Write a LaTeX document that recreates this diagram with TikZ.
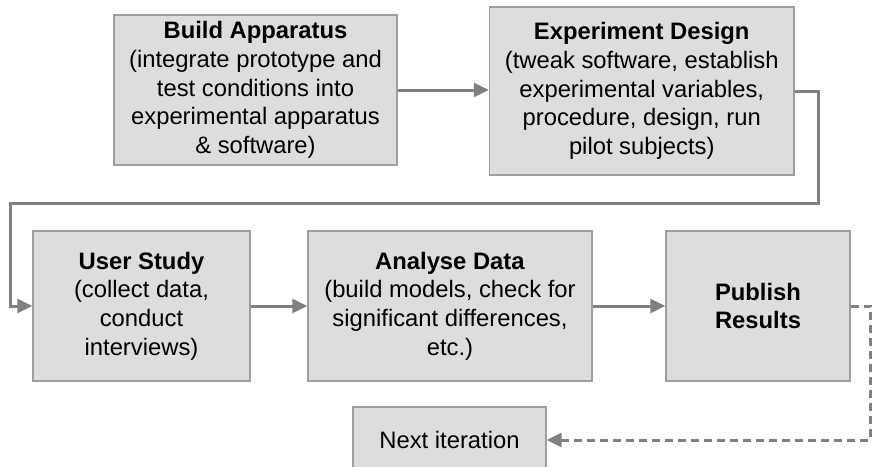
\documentclass[tikz,border=0pt]{standalone}
\usepackage{fontspec}
\setmainfont{Liberation Sans}
\usetikzlibrary{arrows.meta}
\definecolor{boxfill}{RGB}{221,221,221}
\definecolor{boxline}{RGB}{158,158,158}
\definecolor{arrowgray}{RGB}{128,128,128}
\begin{document}
\begin{tikzpicture}[x=1pt,y=-1pt,
  stage/.style={draw=boxline, line width=1.4pt, fill=boxfill, inner sep=0pt, align=center,
    font=\fontsize{23.8}{28.7}\selectfont},
  flow/.style={draw=arrowgray, line width=3pt, -{Triangle[length=15pt,width=14pt]}},
  loopback/.style={flow, line width=3pt, dash pattern=on 8pt off 5pt}
]
\useasboundingbox (0,0) rectangle (873,466);
\clip (0,0) rectangle (873,466);
\node[stage, minimum width=283pt, minimum height=150pt] (build) at (255.5,90)
  {\textbf{Build Apparatus}\\(integrate prototype and\\test conditions into\\experimental apparatus\\\& software)};
\node[stage, minimum width=304.5pt, minimum height=168pt] (design) at (641.75,91)
  {\textbf{Experiment Design}\\(tweak software, establish\\experimental variables,\\procedure, design, run\\pilot subjects)};
\node[stage, minimum width=217pt, minimum height=150pt] (study) at (141.5,306)
  {\textbf{User Study}\\(collect data,\\conduct\\interviews)};
\node[stage, minimum width=284pt, minimum height=150pt] (analyse) at (450,306)
  {\textbf{Analyse Data}\\(build models, check for\\significant differences,\\etc.)};
\node[stage, minimum width=184pt, minimum height=150pt] (publish) at (758,306)
  {\textbf{Publish}\\\textbf{Results}};
\node[stage, minimum width=193pt, minimum height=66pt] (next) at (449.5,440)
  {Next iteration};
\coordinate (turnA) at (818,203);
\coordinate (turnB) at (10,203);
\coordinate (turnC) at (870.5,306);
\draw[flow] (build.east) -- (build.east -| design.west);
\draw[flow] (design.east) -| (turnA) -- (turnB) |- (study.west);
\draw[flow] (study.east) -- (analyse.west);
\draw[flow] (analyse.east) -- (publish.west);
\draw[loopback] (publish.east) -- (turnC) |- (next.east);
\end{tikzpicture}
\end{document}
